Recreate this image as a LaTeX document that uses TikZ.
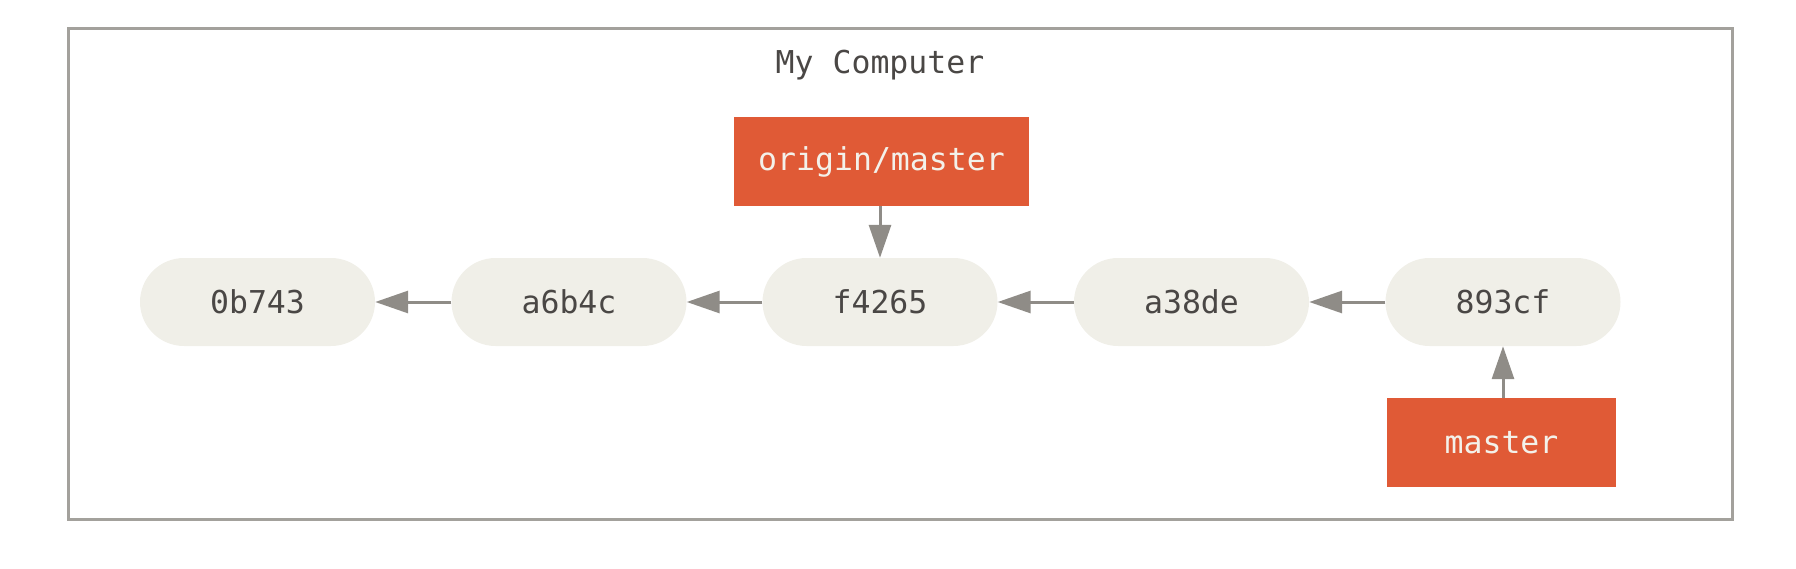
\documentclass[tikz,border=0pt]{standalone}
\usepackage{fontspec}
\newfontfamily\monofont{DejaVu Sans Mono}
\usetikzlibrary{arrows.meta}
\definecolor{branchred}{HTML}{E05A36}
\definecolor{commitfill}{HTML}{F0EFE8}
\definecolor{arrowgray}{HTML}{8F8C87}
\definecolor{framegray}{HTML}{A3A19C}
\definecolor{textdark}{HTML}{4A4745}
\definecolor{boxtext}{HTML}{F3F1EA}
\tikzset{
  commit/.style={fill=commitfill, draw=none, rounded corners=44pt, minimum width=235pt, minimum height=88pt, inner sep=0pt, text=textdark, font=\monofont\fontsize{31.5}{36}\selectfont},
  branchbox/.style={fill=branchred, draw=none, minimum height=89pt, inner sep=0pt, text=boxtext, font=\monofont\fontsize{31.5}{36}\selectfont},
  arr/.style={draw=arrowgray, line width=3pt, -{Triangle[length=33pt,width=22pt]}, shorten >=0pt},
  framebox/.style={draw=framegray, line width=3pt},
}
\begin{document}
\begin{tikzpicture}[x=1pt,y=-1pt]
\useasboundingbox (0,0) rectangle (1796,568);
\node[framebox, minimum width=1664pt, minimum height=491pt, inner sep=0pt, anchor=north west] (frame) at (67,27) {};
\node[anchor=base, text=textdark, font=\monofont\fontsize{31.5}{36}\selectfont] (title) at (880,73) {My Computer};
\node[commit] (c1) at (257.5,302) {0b743};
\node[commit] (c2) at (569,302) {a6b4c};
\node[commit] (c3) at (880,302) {f4265};
\node[commit] (c4) at (1191.5,302) {a38de};
\node[commit] (c5) at (1503,302) {893cf};
\node[branchbox, minimum width=295pt] (om) at (881.5,161.5) {origin/master};
\node[branchbox, minimum width=229pt] (ms) at (1501.5,442.5) {master};
\draw[arr] (c2) -- (c1);
\draw[arr] (c3) -- (c2);
\draw[arr] (c4) -- (c3);
\draw[arr] (c5) -- (c4);
\draw[arr] (om.south -| c3) -- (c3);
\draw[arr] (ms.north -| c5) -- (c5);
\end{tikzpicture}
\end{document}
